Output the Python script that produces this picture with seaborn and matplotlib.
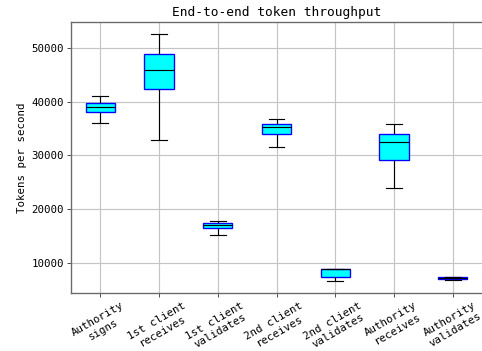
import matplotlib
matplotlib.use("Agg")
import matplotlib.pyplot as plt
import seaborn as sns
import pandas as pd
import numpy as np

categories = ["Authority\nsigns", "1st client\nreceives", "1st client\nvalidates",
              "2nd client\nreceives", "2nd client\nvalidates", "Authority\nreceives",
              "Authority\nvalidates"]
# five-number summaries: min, Q1, median, Q3, max
whisker_low = [36100, 32900, 15200, 31550, 6650, 24000, 6700]
q1 = [38150, 42350, 16550, 33950, 7250, 29150, 7000]
median = [39100, 45950, 17100, 35250, 8750, 32450, 7130]
q3 = [39850, 48950, 17450, 35850, 8800, 33950, 7250]
whisker_high = [41100, 52600, 17750, 36850, 8880, 35850, 7320]

rows = []
for i, c in enumerate(categories):
    for v in (whisker_low[i], q1[i], median[i], q3[i], whisker_high[i]):
        rows.append({"stage": c, "tps": v})
df = pd.DataFrame(rows)

plt.rcParams["font.family"] = ["DejaVu Sans Mono"]
plt.rcParams["font.size"] = 10.3

fig = plt.figure(figsize=(482 / 75, 351 / 75), dpi=75)
ax = fig.add_axes([71 / 482, 1 - 293 / 351, (482 - 71) / 482, (293 - 22) / 351])

sns.boxplot(data=df, x="stage", y="tps", order=categories, ax=ax,
            color="cyan", saturation=1, width=0.5, whis=(0, 100),
            linecolor="black", linewidth=1.1, fliersize=0)

for p in ax.patches:
    p.set_facecolor("cyan")
    p.set_edgecolor("blue")
    p.set_linewidth(1.3)

# narrow the whisker caps (horizontal lines shorter than the box width)
half_cap = 0.135
for ln in ax.lines:
    xd = np.asarray(ln.get_xdata(), dtype=float)
    yd = np.asarray(ln.get_ydata(), dtype=float)
    if len(xd) == 2 and yd[0] == yd[1]:
        w = abs(xd[1] - xd[0])
        if 0 < w < 0.45:
            c = xd.mean()
            ln.set_xdata([c - half_cap, c + half_cap])

ax.set_axisbelow(True)
ax.grid(True, color="#c4c4c4", linewidth=1.1)
ax.set_xlim(-0.5, 6.5)
ax.set_title("End-to-end token throughput", fontsize=12.4)
ax.set_ylabel("Tokens per second")
ax.set_xlabel("")
ax.set_yticks([10000, 20000, 30000, 40000, 50000])
plt.setp(ax.get_xticklabels(), rotation=30, ha="center")
for s in ax.spines.values():
    s.set_color("#6a6a6a")
    s.set_linewidth(1.3)
ax.spines["right"].set_visible(False)
ax.tick_params(color="#333333")

fig.savefig("out.png", dpi=75)
